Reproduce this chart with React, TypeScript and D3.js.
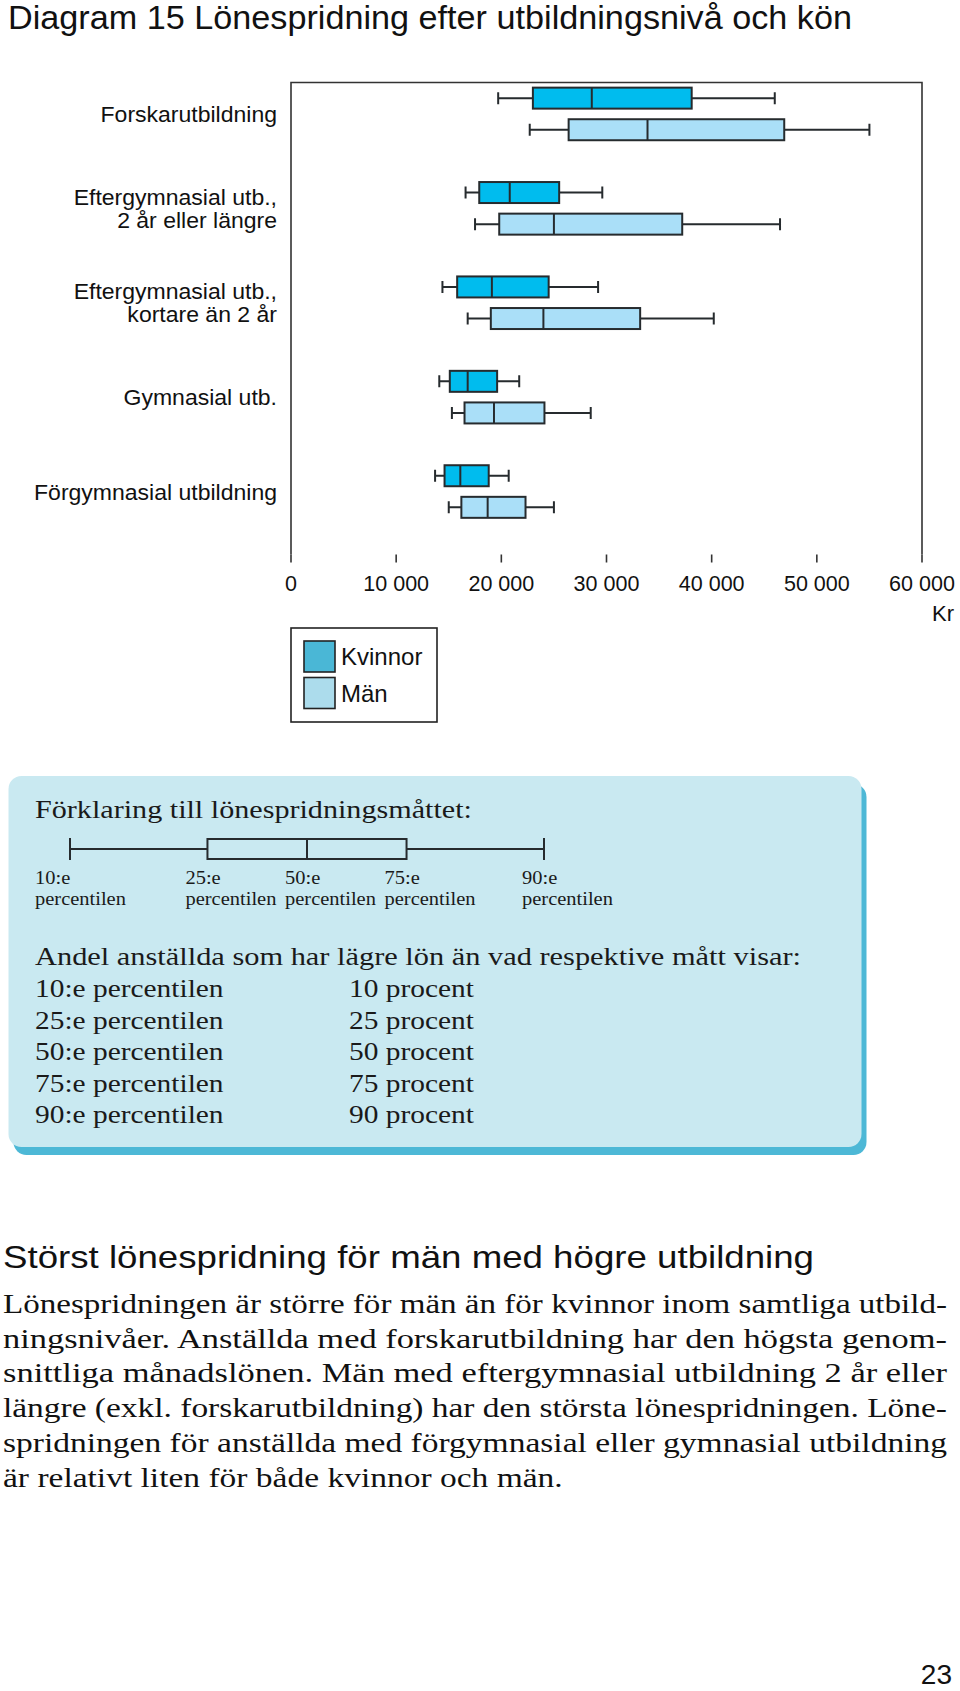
import { useEffect, useRef } from "react";
import * as d3 from "d3";

// education levels, top to bottom
const categoryLines = [
  ["Forskarutbildning"],
  ["Eftergymnasial utb.,", "2 år eller längre"],
  ["Eftergymnasial utb.,", "kortare än 2 år"],
  ["Gymnasial utb."],
  ["Förgymnasial utbildning"],
];

// [p10, p25, p50, p75, p90] in kr per month
const kvinnor = [
  [19700, 23000, 28600, 38100, 46000],
  [16600, 17900, 20800, 25500, 29600],
  [14400, 15800, 19100, 24500, 29200],
  [14100, 15100, 16800, 19600, 21700],
  [13700, 14600, 16100, 18800, 20700],
];
const man = [
  [22700, 26400, 33900, 46900, 55000],
  [17500, 19800, 25000, 37200, 46500],
  [16800, 19000, 24000, 33200, 40200],
  [15300, 16500, 19300, 24100, 28500],
  [15000, 16200, 18700, 22300, 25000],
];

const xTicks = [0, 10000, 20000, 30000, 40000, 50000, 60000];
const seriesNames = ["Kvinnor", "Män"];

// explanation panel
const percentileNames = ["10:e", "25:e", "50:e", "75:e", "90:e"];
const exampleStops = [0, 29, 50, 71, 100];
const shareValues = [10, 25, 50, 75, 90];

const title = "Diagram 15 Lönespridning efter utbildningsnivå och kön";
const heading = "Störst lönespridning för män med högre utbildning";
const bodyLines = [
  "Lönespridningen är större för män än för kvinnor inom samtliga utbild-",
  "ningsnivåer. Anställda med forskarutbildning har den högsta genom-",
  "snittliga månadslönen. Män med eftergymnasial utbildning 2 år eller",
  "längre (exkl. forskarutbildning) har den största lönespridningen. Löne-",
  "spridningen för anställda med förgymnasial eller gymnasial utbildning",
  "är relativt liten för både kvinnor och män.",
];
const pageNumber = "23";

const SANS = "'Liberation Sans', Arial, sans-serif";
const SERIF = "'Liberation Serif', 'Times New Roman', serif";
const INK = "#262b2e";
const BOX_K = "#00bcee";
const BOX_M = "#aadff8";
const SWATCH_K = "#4ab7d6";
const SWATCH_M = "#acdcec";

const fmt = d3.formatLocale({ decimal: ",", thousands: " ", grouping: [3], currency: ["", " kr"] }).format(",");

const App = () => {
  const svgRef = useRef<SVGSVGElement>(null);

  useEffect(() => {
    document.body.style.margin = "0";
    const svg = d3.select(svgRef.current);
    svg.selectAll("*").remove();

    // widen a line by factor k (the source faces are wider than ours)
    const stretch = (sel: any, k: number) => {
      const w = sel.node().getComputedTextLength();
      sel.attr("textLength", w * k).attr("lengthAdjust", "spacingAndGlyphs");
    };

    svg
      .append("text")
      .attr("x", 8)
      .attr("y", 29)
      .attr("font-family", SANS)
      .attr("font-size", 33)
      .attr("fill", "#111")
      .attr("textLength", 844)
      .attr("lengthAdjust", "spacingAndGlyphs")
      .text(title);

    // ---- box plot ----
    const left = 291, right = 922, top = 82.5, bottom = 554.5;
    const x = d3.scaleLinear().domain([0, 60000]).range([left, right]);
    const y = d3
      .scaleBand<number>()
      .domain(d3.range(categoryLines.length))
      .range([top, bottom]);
    const groupY = (i: number) => (y(i) as number) + y.bandwidth() * 0.333;
    const offset = 15.8;
    const boxH = 21;
    const capH = 12;

    const plot = svg.append("g");
    plot
      .append("path")
      .attr("d", `M${left},${bottom}V${top}H${right}V${bottom}`)
      .attr("fill", "none")
      .attr("stroke", "#333")
      .attr("stroke-width", 1.6);

    const series = [
      { data: kvinnor, fill: BOX_K, dy: -offset },
      { data: man, fill: BOX_M, dy: offset },
    ];
    series.forEach((s) => {
      const g = plot
        .selectAll(null)
        .data(s.data)
        .join("g")
        .attr("transform", (_, i) => `translate(0,${groupY(i) + s.dy})`);
      g.append("path")
        .attr(
          "d",
          (d) =>
            `M${x(d[0])},${-capH / 2}V${capH / 2}M${x(d[0])},0H${x(d[1])}` +
            `M${x(d[3])},0H${x(d[4])}M${x(d[4])},${-capH / 2}V${capH / 2}`
        )
        .attr("stroke", INK)
        .attr("stroke-width", 2)
        .attr("fill", "none");
      g.append("rect")
        .attr("x", (d) => x(d[1]))
        .attr("y", -boxH / 2)
        .attr("width", (d) => x(d[3]) - x(d[1]))
        .attr("height", boxH)
        .attr("fill", s.fill)
        .attr("stroke", INK)
        .attr("stroke-width", 2);
      g.append("line")
        .attr("x1", (d) => x(d[2]))
        .attr("x2", (d) => x(d[2]))
        .attr("y1", -boxH / 2)
        .attr("y2", boxH / 2)
        .attr("stroke", INK)
        .attr("stroke-width", 2);
    });

    // category labels
    const lineGap = 22.5;
    categoryLines.forEach((lines, i) => {
      const c = groupY(i);
      const first = c - ((lines.length - 1) * lineGap) / 2;
      lines.forEach((ln, j) => {
        const t = plot
          .append("text")
          .attr("x", 277)
          .attr("y", first + j * lineGap + 8)
          .attr("text-anchor", "end")
          .attr("font-family", SANS)
          .attr("font-size", 21.5)
          .attr("fill", "#111")
          .text(ln);
        stretch(t, 1.07);
      });
    });

    // x axis ticks + labels
    const ax = plot.append("g");
    ax.selectAll("line")
      .data(xTicks)
      .join("line")
      .attr("x1", (d) => x(d))
      .attr("x2", (d) => x(d))
      .attr("y1", bottom)
      .attr("y2", bottom + 8)
      .attr("stroke", "#333")
      .attr("stroke-width", 1.6);
    ax.selectAll("text")
      .data(xTicks)
      .join("text")
      .attr("x", (d) => x(d))
      .attr("y", 591)
      .attr("text-anchor", "middle")
      .attr("font-family", SANS)
      .attr("font-size", 21.5)
      .attr("fill", "#111")
      .text((d) => fmt(d));
    plot
      .append("text")
      .attr("x", 954)
      .attr("y", 621)
      .attr("text-anchor", "end")
      .attr("font-family", SANS)
      .attr("font-size", 22)
      .attr("fill", "#111")
      .text("Kr");

    // legend
    const lg = svg.append("g");
    lg.append("rect")
      .attr("x", 291)
      .attr("y", 628)
      .attr("width", 146)
      .attr("height", 94)
      .attr("fill", "#fff")
      .attr("stroke", "#222")
      .attr("stroke-width", 1.6);
    seriesNames.forEach((name, i) => {
      lg.append("rect")
        .attr("x", 304)
        .attr("y", 641 + i * 36.5)
        .attr("width", 31)
        .attr("height", 31)
        .attr("fill", i === 0 ? SWATCH_K : SWATCH_M)
        .attr("stroke", "#222")
        .attr("stroke-width", 1.6);
      lg.append("text")
        .attr("x", 341)
        .attr("y", 665 + i * 36.5)
        .attr("font-family", SANS)
        .attr("font-size", 24)
        .attr("fill", "#111")
        .text(name);
    });

    // ---- explanation panel ----
    const panel = svg.append("g");
    panel
      .append("rect")
      .attr("x", 13.5)
      .attr("y", 784)
      .attr("width", 853)
      .attr("height", 371)
      .attr("rx", 13)
      .attr("fill", "#4db8d6");
    panel
      .append("rect")
      .attr("x", 8.5)
      .attr("y", 776)
      .attr("width", 853)
      .attr("height", 371)
      .attr("rx", 13)
      .attr("fill", "#c9e9f1");

    const serif = (tx: number, ty: number, size: number, str: string, k = 1.2) => {
      const t = panel
        .append("text")
        .attr("x", tx)
        .attr("y", ty)
        .attr("font-family", SERIF)
        .attr("font-size", size)
        .attr("fill", "#1a1a1a")
        .text(str);
      stretch(t, k);
      return t;
    };

    serif(35, 818, 24.5, "Förklaring till lönespridningsmåttet:", 1.23);

    const ex = d3.scaleLinear().domain([0, 100]).range([70, 544]);
    const exY = 849;
    panel
      .append("path")
      .attr(
        "d",
        `M${ex(exampleStops[0])},${exY - 11}V${exY + 11}M${ex(exampleStops[0])},${exY}H${ex(exampleStops[1])}` +
          `M${ex(exampleStops[3])},${exY}H${ex(exampleStops[4])}M${ex(exampleStops[4])},${exY - 11}V${exY + 11}`
      )
      .attr("stroke", INK)
      .attr("stroke-width", 2)
      .attr("fill", "none");
    panel
      .append("rect")
      .attr("x", ex(exampleStops[1]))
      .attr("y", exY - 10)
      .attr("width", ex(exampleStops[3]) - ex(exampleStops[1]))
      .attr("height", 20)
      .attr("fill", "none")
      .attr("stroke", INK)
      .attr("stroke-width", 2);
    panel
      .append("line")
      .attr("x1", ex(exampleStops[2]))
      .attr("x2", ex(exampleStops[2]))
      .attr("y1", exY - 10)
      .attr("y2", exY + 10)
      .attr("stroke", INK)
      .attr("stroke-width", 2);

    percentileNames.forEach((p, i) => {
      // first label sits at the panel's text margin, the rest just left of their mark
      const lx = i === 0 ? 35 : ex(exampleStops[i]) - 22;
      serif(lx, 884, 19.5, p, 1.05);
      serif(lx, 905, 19.5, "percentilen", 1.05);
    });

    serif(35, 965, 24.5, "Andel anställda som har lägre lön än vad respektive mått visar:", 1.24);
    shareValues.forEach((v, i) => {
      const ty = 997 + i * 31.5;
      serif(35, ty, 24.5, `${percentileNames[i]} percentilen`);
      serif(349, ty, 24.5, `${v} procent`);
    });

    // ---- text below ----
    svg
      .append("text")
      .attr("x", 3)
      .attr("y", 1268)
      .attr("font-family", SANS)
      .attr("font-size", 32)
      .attr("fill", "#111")
      .attr("textLength", 811)
      .attr("lengthAdjust", "spacingAndGlyphs")
      .text(heading);

    bodyLines.forEach((ln, i) => {
      const t = svg
        .append("text")
        .attr("x", 3)
        .attr("y", 1313 + i * 34.7)
        .attr("font-family", SERIF)
        .attr("font-size", 27)
        .attr("fill", "#111")
        .text(ln);
      if (i < bodyLines.length - 1) {
        t.attr("textLength", 944).attr("lengthAdjust", "spacingAndGlyphs");
      } else {
        stretch(t, 1.24);
      }
    });

    svg
      .append("text")
      .attr("x", 952)
      .attr("y", 1684)
      .attr("text-anchor", "end")
      .attr("font-family", SANS)
      .attr("font-size", 28)
      .attr("fill", "#111")
      .text(pageNumber);
  }, []);

  return (
    <svg
      ref={svgRef}
      width={960}
      height={1691}
      style={{ display: "block", position: "absolute", left: 0, top: 0, background: "#fff" }}
    />
  );
};

export default App;
